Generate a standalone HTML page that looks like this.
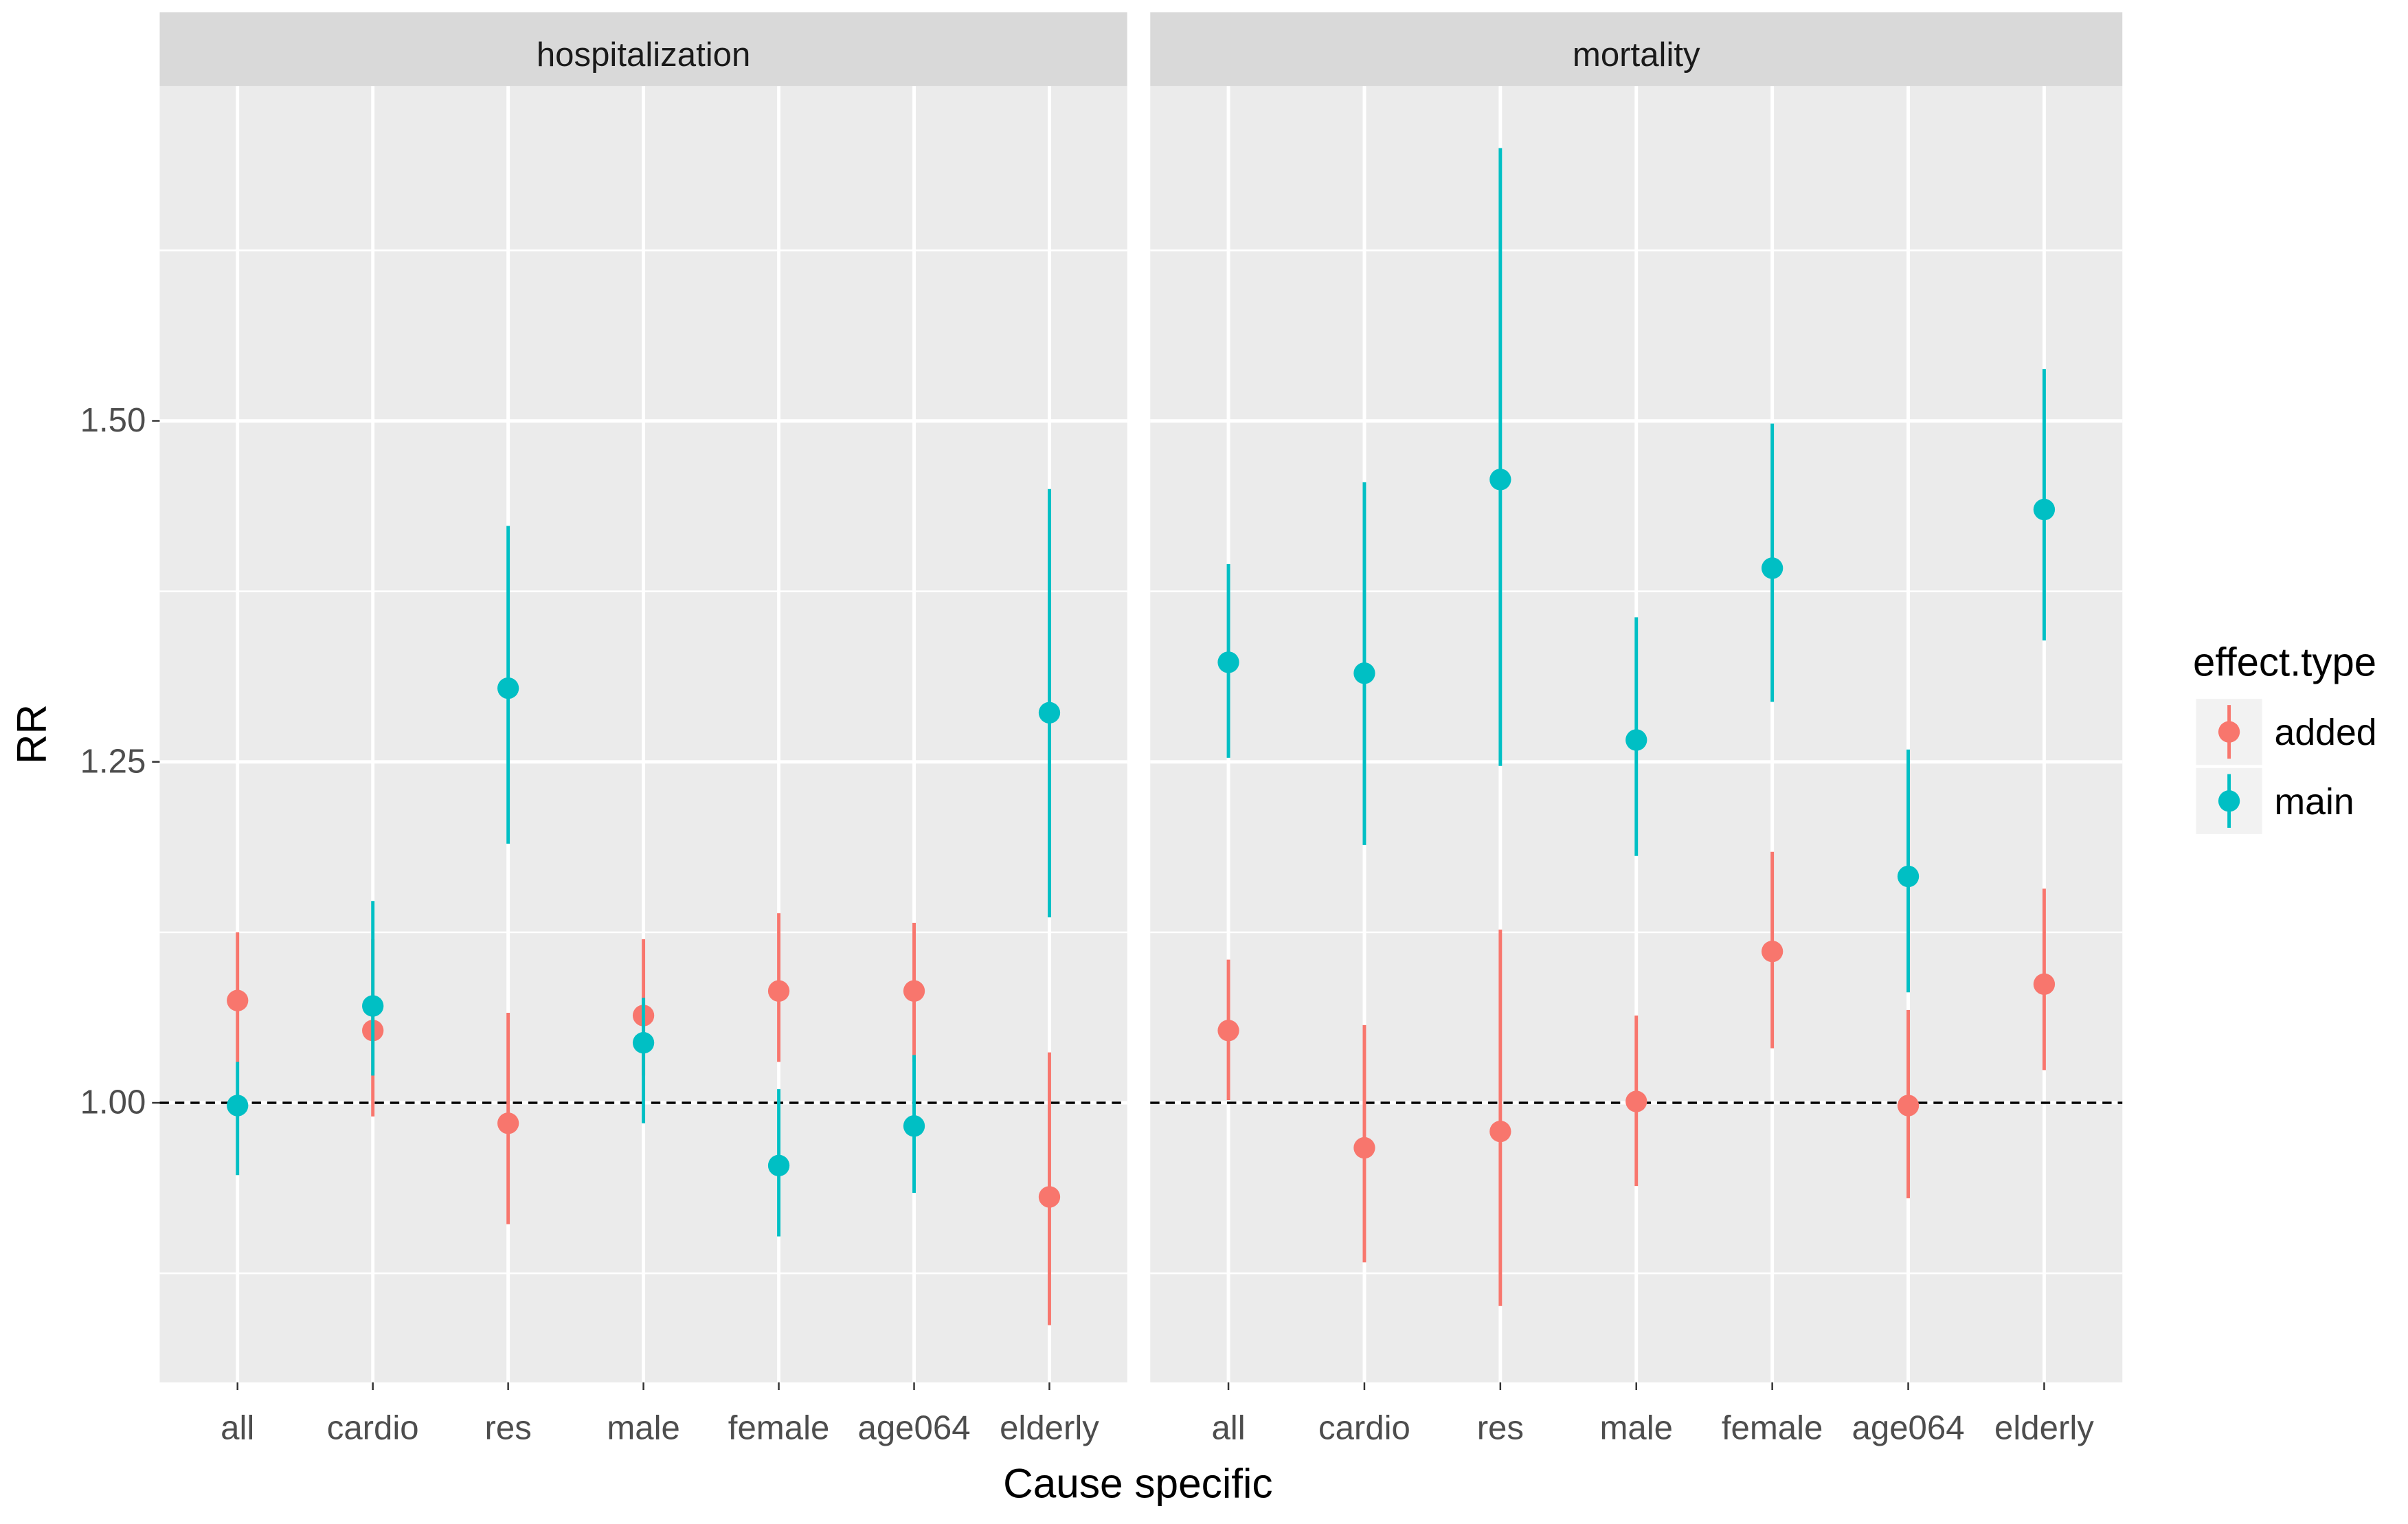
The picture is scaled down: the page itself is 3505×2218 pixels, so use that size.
<!DOCTYPE html>
<html><head><meta charset="utf-8"><style>
html,body{margin:0;padding:0;background:#fff;}
svg{display:block;font-family:"Liberation Sans",sans-serif;}
</style></head><body>
<svg id="chart" width="3505" height="2218" viewBox="0 0 1568 992.2" xmlns="http://www.w3.org/2000/svg">
<g id="root"></g>
</svg>
<script>
const categories = ["all","cardio","res","male","female","age064","elderly"];
const panels = ["hospitalization","mortality"];
const yTicks = [1.00, 1.25, 1.50];
const yTickLabels = ["1.00","1.25","1.50"];
const yMinor = [0.875, 1.125, 1.375, 1.625];
// hospitalization
const hospAddedEst = [1.075, 1.053, 0.985, 1.064, 1.082, 1.082, 0.931];
const hospAddedLo  = [1.03, 0.99, 0.911, 1.02, 1.03, 1.03, 0.837];
const hospAddedHi  = [1.125, 1.12, 1.066, 1.12, 1.139, 1.132, 1.037];
const hospMainEst  = [0.998, 1.071, 1.304, 1.044, 0.954, 0.983, 1.286];
const hospMainLo   = [0.947, 1.02, 1.19, 0.985, 0.902, 0.934, 1.136];
const hospMainHi   = [1.03, 1.148, 1.423, 1.077, 1.01, 1.035, 1.45];
// mortality
const mortAddedEst = [1.053, 0.967, 0.979, 1.001, 1.111, 0.998, 1.087];
const mortAddedLo  = [1.002, 0.883, 0.851, 0.939, 1.04, 0.93, 1.024];
const mortAddedHi  = [1.105, 1.057, 1.127, 1.064, 1.184, 1.068, 1.157];
const mortMainEst  = [1.323, 1.315, 1.457, 1.266, 1.392, 1.166, 1.435];
const mortMainLo   = [1.253, 1.189, 1.247, 1.181, 1.294, 1.081, 1.339];
const mortMainHi   = [1.395, 1.455, 1.70, 1.356, 1.498, 1.259, 1.538];

const NS="http://www.w3.org/2000/svg";
const root=document.getElementById('root');
function mk(tag,attrs,parent){const e=document.createElementNS(NS,tag);for(const k in attrs)e.setAttribute(k,attrs[k]);(parent||root).appendChild(e);return e;}
const PT=56, PB=900;
const yScale=v=>718-(v-1)*888;
const panelX=[[104,734],[749,1382]];
const xScale=(p,i)=>{const [a,b]=panelX[p];const step=(b-a)/7.15;return a+ (b-a)/2 + (i-3)*step;};
const COL={added:"#F8766D",main:"#00BFC4"};
const series=[
 [{n:"added",e:hospAddedEst,l:hospAddedLo,h:hospAddedHi},{n:"main",e:hospMainEst,l:hospMainLo,h:hospMainHi}],
 [{n:"added",e:mortAddedEst,l:mortAddedLo,h:mortAddedHi},{n:"main",e:mortMainEst,l:mortMainLo,h:mortMainHi}]
];
panels.forEach((pn,p)=>{
  const [a,b]=panelX[p];
  const g=mk('g',{});
  
  
  const bg=mk('rect',{x:a,y:PT,width:b-a,height:PB-PT,fill:"#EBEBEB"},g);
  
  
  const st=mk('rect',{x:a,y:8,width:b-a,height:48,fill:"#D9D9D9"},g);
  
  
  const stt=mk('text',{x:(a+b)/2,y:43,'text-anchor':'middle','font-size':22,fill:"#1A1A1A"},g);
  stt.textContent=pn;
  
  
  yMinor.forEach(v=>{const l=mk('line',{x1:a,x2:b,y1:yScale(v),y2:yScale(v),stroke:"#fff","stroke-width":1.1},g);
    });
  yTicks.forEach(v=>{const l=mk('line',{x1:a,x2:b,y1:yScale(v),y2:yScale(v),stroke:"#fff","stroke-width":2.2},g);
    });
  categories.forEach((c,i)=>{const x=xScale(p,i);
    const l=mk('line',{x1:x,x2:x,y1:PT,y2:PB,stroke:"#fff","stroke-width":2.2},g);
    
    const t=mk('line',{x1:x,x2:x,y1:PB,y2:PB+5,stroke:"#333","stroke-width":1.1},g);
    
    const tx=mk('text',{x:x,y:937,'text-anchor':'middle','font-size':22,fill:"#4D4D4D"},g);
    tx.textContent=c;
  });
  const ref=mk('line',{x1:a,x2:b,y1:yScale(1),y2:yScale(1),stroke:"#000","stroke-width":1.6,"stroke-dasharray":"6,4"},g);
  
  series[p].forEach(s=>{
    s.e.forEach((v,i)=>{const x=xScale(p,i);
      const l=mk('line',{x1:x,x2:x,y1:yScale(s.l[i]),y2:yScale(s.h[i]),stroke:COL[s.n],"stroke-width":2.2},g);
      
      const c=mk('circle',{cx:x,cy:yScale(v),r:7,fill:COL[s.n]},g);
      
    });
  });
});
yTicks.forEach((v,i)=>{const y=yScale(v);
  const t=mk('line',{x1:99,x2:104,y1:y,y2:y,stroke:"#333","stroke-width":1.1});
  
  const tx=mk('text',{x:95,y:y+7,'text-anchor':'end','font-size':22,fill:"#4D4D4D"});
  tx.textContent=yTickLabels[i];
});
const xt=mk('text',{x:741,y:975,'text-anchor':'middle','font-size':27,fill:"#000"});
xt.textContent="Cause specific";
const yt=mk('text',{x:0,y:0,'text-anchor':'middle','font-size':27,fill:"#000",transform:"translate(30,478) rotate(-90)"});
yt.textContent="RR";
const lg=mk('g',{});

const lt=mk('text',{x:1428,y:440,'font-size':26,fill:"#000"},lg);
lt.textContent="effect.type";
["added","main"].forEach((n,k)=>{const y0=455+k*45;
  const e=mk('g',{},lg);
  mk('rect',{x:1430,y:y0,width:43,height:43,fill:"#F2F2F2"},e);
  mk('line',{x1:1451.5,x2:1451.5,y1:y0+4,y2:y0+39,stroke:COL[n],"stroke-width":2.2},e);
  mk('circle',{cx:1451.5,cy:y0+21.5,r:7,fill:COL[n]},e);
  const t=mk('text',{x:1481,y:y0+30,'font-size':24,fill:"#000"},e);t.textContent=n;
});
</script>
</body></html>
